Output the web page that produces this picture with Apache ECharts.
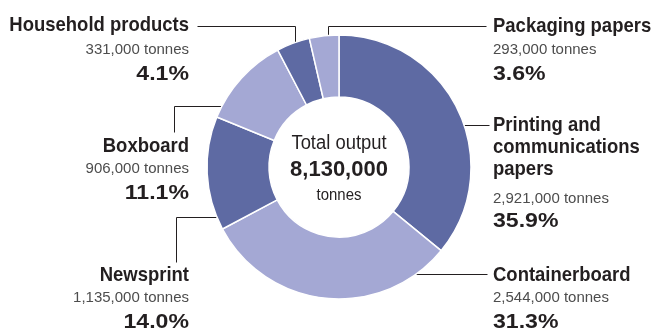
<!DOCTYPE html>
<html>
<head>
<meta charset="utf-8">
<script src="https://cdn.jsdelivr.net/npm/echarts@6/dist/echarts.min.js"></script>
<style>
  html, body { margin: 0; padding: 0; background: #fff; }
  #chart { width: 659px; height: 331px; }
</style>
</head>
<body>
<div id="chart"></div>
<script>
// Paper output by product category (tonnes)
var categories = ['Printing and\ncommunications\npapers', 'Containerboard', 'Newsprint', 'Boxboard', 'Household products', 'Packaging papers'];
var tonnes = [2921000, 2544000, 1135000, 906000, 331000, 293000];
var sliceColors = ['#5e6aa3', '#a4a8d4', '#5e6aa3', '#a4a8d4', '#5e6aa3', '#a4a8d4'];

var total = tonnes.reduce(function (a, b) { return a + b; }, 0);

function fmt(n) { return n.toString().replace(/\B(?=(\d{3})+(?!\d))/g, ','); }

// Where each callout sits: text anchor, alignment, line centres, leader path
var callouts = [
  { x: 493, align: 'left',  name: [125, 147, 169], t: 199, p: 221, line: [[453, 125], [489, 125]] },
  { x: 493, align: 'left',  name: [275], t: 298, p: 322, line: [[402, 274], [487, 274]] },
  { x: 189, align: 'right', name: [275], t: 298, p: 322, line: [[229, 217], [176, 217], [176, 262]] },
  { x: 189, align: 'right', name: [146], t: 169, p: 193, line: [[235, 106], [174, 106], [174, 132]] },
  { x: 189, align: 'right', name: [25],  t: 50,  p: 74,  line: [[197, 26], [295, 26], [295, 57]] },
  { x: 493, align: 'left',  name: [26],  t: 50,  p: 74,  line: [[486, 26], [328, 26], [328, 48]] }
];

var INK = '#231f20';
var nameFont = 'bold 21px "Liberation Sans", Arial, sans-serif';
var tonneFont = '15px "Liberation Sans", Arial, sans-serif';
var pctFont = 'bold 21px "Liberation Sans", Arial, sans-serif';

// Text placed at (x, y), squeezed or widened horizontally around its anchor
function label(text, x, y, align, font, fill, sx) {
  return {
    type: 'text', silent: true, x: x, y: y, scaleX: sx || 1,
    style: { text: text, x: 0, y: 0, textAlign: align, textVerticalAlign: 'middle', font: font, fill: fill }
  };
}

var graphics = [];
categories.forEach(function (cat, i) {
  var c = callouts[i];
  graphics.push({
    type: 'polyline', silent: true,
    shape: { points: c.line.map(function (p) { return [p[0] + 0.5, p[1] + 0.5]; }) },
    style: { stroke: INK, lineWidth: 1, fill: null }
  });
  cat.split('\n').forEach(function (line, k) {
    graphics.push(label(line, c.x, c.name[k], c.align, nameFont, INK, 0.88));
  });
  graphics.push(label(fmt(tonnes[i]) + ' tonnes', c.x, c.t, c.align, tonneFont, '#4d4d4d', 1));
  graphics.push(label((tonnes[i] / total * 100).toFixed(1) + '%', c.x, c.p, c.align, pctFont, INK, 1.1));
});

// Centre caption
graphics.push(label('Total output', 339, 143, 'center', '20px "Liberation Sans", Arial, sans-serif', INK, 0.92));
graphics.push(label(fmt(total), 339, 170, 'center', 'bold 22px "Liberation Sans", Arial, sans-serif', INK, 1));
graphics.push(label('tonnes', 339, 195, 'center', '17px "Liberation Sans", Arial, sans-serif', INK, 0.88));

var chart = echarts.init(document.getElementById('chart'), null, { renderer: 'canvas' });
chart.setOption({
  animation: false,
  backgroundColor: '#ffffff',
  series: [{
    type: 'pie',
    center: [339, 167],
    radius: [70, 132],
    startAngle: 90,
    clockwise: true,
    silent: true,
    label: { show: false },
    labelLine: { show: false },
    itemStyle: { borderColor: '#ffffff', borderWidth: 1.5 },
    data: categories.map(function (c, i) {
      return { name: c.replace(/\n/g, ' '), value: tonnes[i], itemStyle: { color: sliceColors[i] } };
    })
  }],
  graphic: graphics
});
</script>
</body>
</html>
